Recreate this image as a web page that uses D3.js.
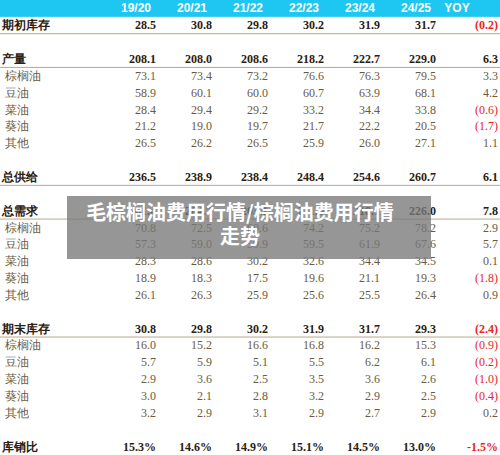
<!DOCTYPE html><html><head><meta charset="utf-8"><script src="https://cdn.jsdelivr.net/npm/d3@7"></script>
<style>body{margin:0;background:#fff}</style></head><body><svg id="c" width="500" height="455"></svg>
<script>
const columns=["19/20","20/21","21/22","22/23","23/24","24/25","YOY"];
const rowLabels=["期初库存","","产量","棕榈油","豆油","菜油","葵油","其他","","总供给","","总需求","棕榈油","豆油","菜油","葵油","其他","","期末库存","棕榈油","豆油","菜油","葵油","其他","","库销比"];
const boldRows=["期初库存","产量","总供给","总需求","期末库存","库销比"];
const values=[
["28.5","30.8","29.8","30.2","31.9","31.7","(0.2)"],null,
["208.1","208.0","208.6","218.2","222.7","229.0","6.3"],
["73.1","73.4","73.2","76.6","76.3","79.5","3.3"],
["58.9","60.1","60.0","60.7","63.9","68.1","4.2"],
["28.4","29.4","29.2","33.2","34.4","33.8","(0.6)"],
["21.2","19.0","19.7","21.7","22.2","20.5","(1.7)"],
["26.5","26.2","26.5","25.9","26.0","27.1","1.1"],null,
["236.5","238.9","238.4","248.4","254.6","260.7","6.1"],null,
["201.4","204.7","203.1","211.5","218.1","226.0","7.8"],
["70.8","72.5","69.6","74.2","75.2","78.2","2.9"],
["57.3","59.0","59.9","59.5","61.9","67.6","5.7"],
["28.3","28.6","30.2","32.6","34.4","34.5","0.1"],
["18.9","18.3","17.5","19.6","21.1","19.3","(1.8)"],
["26.1","26.3","25.9","25.6","25.5","26.4","0.9"],null,
["30.8","29.8","30.2","31.9","31.7","29.3","(2.4)"],
["16.0","15.2","16.6","16.8","16.2","15.3","(0.9)"],
["5.7","5.9","5.1","5.5","6.2","6.1","(0.2)"],
["2.9","3.6","2.5","3.5","3.6","2.6","(1.0)"],
["3.0","2.1","2.8","3.2","2.9","2.5","(0.4)"],
["3.2","2.9","3.1","2.9","2.7","2.9","0.2"],null,
["15.3%","14.6%","14.9%","15.1%","14.5%","13.0%","-1.5%"]];
const lineAfter=["期初库存","产量","总供给","总需求","期末库存"];
const title=["毛棕榈油费用行情/棕榈油费用行情","走势"];

const svg=d3.select("#c");
const y=d3.scaleBand().domain(d3.range(rowLabels.length+1)).range([0,455]).paddingOuter(0);
const yc=i=>y(i)+y.bandwidth()/2;
const x=d3.scaleBand().domain(columns).range([107,499]);
const xr=c=>x(c)+x.bandwidth()-(c==="YOY"?1:7);
const serif="'Liberation Serif','DejaVu Serif',serif";
svg.append("rect").attr("x",0).attr("y",0).attr("width",500).attr("height",y(1)).attr("fill","#1ec6f2");
svg.selectAll(".h").data(columns).join("text").attr("x",c=>c==="YOY"?457:xr(c)-20).attr("y",yc(0)+4)
 .attr("text-anchor","middle").attr("fill","#fff").attr("font-weight","bold").attr("font-size",12).attr("font-family","Arial,sans-serif").text(c=>c);
rowLabels.forEach((lab,i)=>{
 const r=i+1; if(!lab) return;
 const b=boldRows.includes(lab)&&!(i>2&&["棕榈油"].includes(lab));
 const isBold=boldRows.includes(lab);
 svg.append("text").attr("x",isBold?2:5).attr("y",yc(r)+4).attr("font-size",12).attr("font-family",serif)
  .attr("font-weight",isBold?"bold":"normal").attr("fill",isBold?"#2a2010":"#6b5a40").text(lab);
 const v=values[i];
 v.forEach((t,j)=>{const neg=t.startsWith("(")||t.startsWith("-");
  svg.append("text").attr("x",xr(columns[j])).attr("y",yc(r)+4).attr("text-anchor","end").attr("font-size",12).attr("font-family",serif)
   .attr("font-weight",isBold?"bold":"normal").attr("fill",j===6&&neg?"#e8261e":(isBold?"#2a2010":"#6b5a40")).text(t);});
 if(lineAfter.includes(lab)) svg.append("line").attr("x1",0).attr("x2",500).attr("y1",y(r)+y.bandwidth()).attr("y2",y(r)+y.bandwidth()).attr("stroke","#b8a888").attr("stroke-width",1);
});
svg.append("rect").attr("x",67).attr("y",196).attr("width",364).attr("height",63).attr("fill","rgba(120,120,120,0.78)");
title.forEach((t,k)=>svg.append("text").attr("x",240).attr("y",220+k*24).attr("text-anchor","middle").attr("fill","#fff").attr("font-weight","bold").attr("font-size",20).attr("font-family","'Noto Sans CJK SC',sans-serif").text(t));
</script></body></html>
